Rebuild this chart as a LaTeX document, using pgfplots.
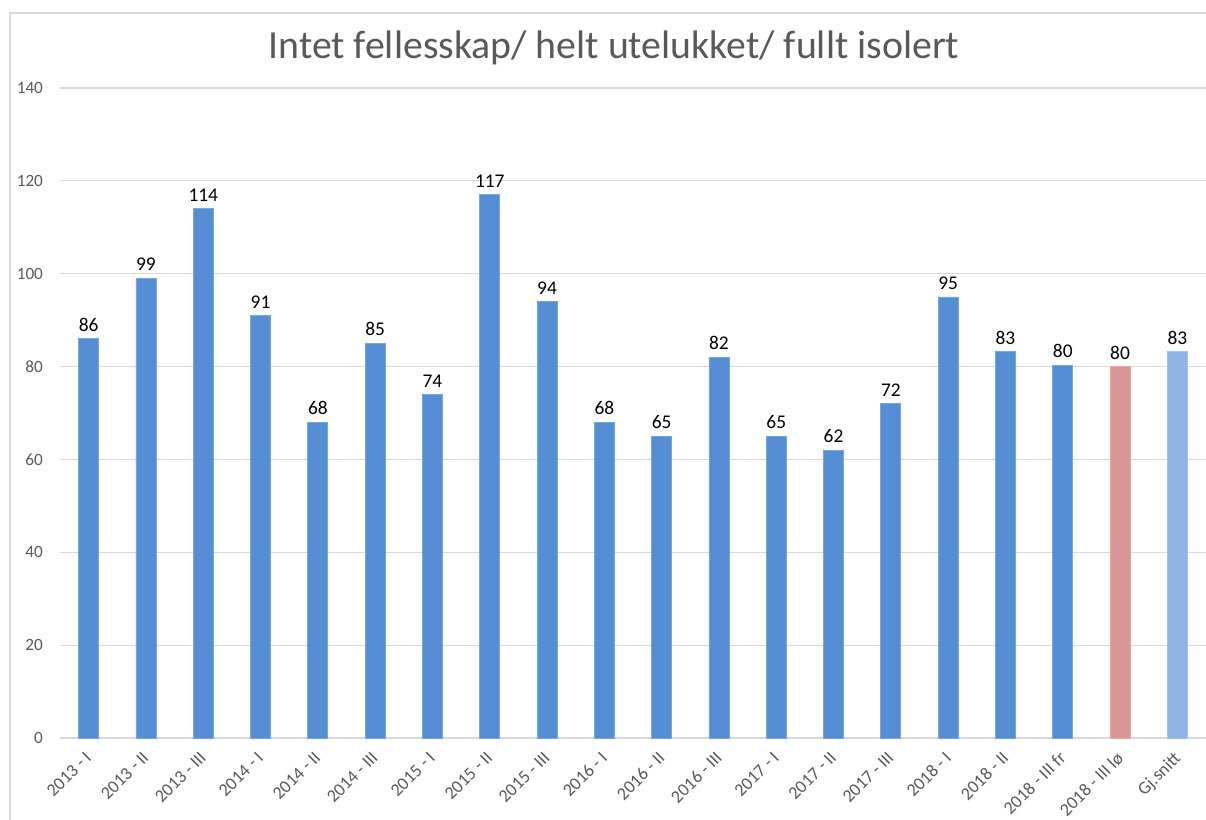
\documentclass[border=0pt]{standalone}
\usepackage{pgfplots}
\pgfplotsset{compat=1.18}
\usepackage{fontspec}
\setmainfont{Carlito}
\definecolor{barblue}{HTML}{558ED5}
\definecolor{barred}{HTML}{D99694}
\definecolor{barlight}{HTML}{8EB4E3}
\definecolor{txtgray}{HTML}{595959}
\definecolor{gridgray}{HTML}{D9D9D9}
\begin{document}
\begin{tikzpicture}[x=0.5pt,y=0.5pt]
\path[use as bounding box] (0,0) rectangle (1206,820);
\draw[gridgray, line width=0.6pt] (10,0) -- (10,807) -- (1206,807);
\node[anchor=base, text=txtgray, font=\fontsize{19.9pt}{23pt}\selectfont, inner sep=0] at (614,761) {Intet fellesskap/ helt utelukket/ fullt isolert};
\begin{axis}[
  at={(30pt,41pt)}, anchor=south west,
  scale only axis, width=573pt, height=325pt,
  xmin=-0.5, xmax=19.5, ymin=0, ymax=140,
  ytick={0,20,...,140},
  xtick={0,...,19},
  xticklabels={2013 - I,2013 - II,2013 - III,2014 - I,2014 - II,2014 - III,2015 - I,2015 - II,2015 - III,2016 - I,2016 - II,2016 - III,2017 - I,2017 - II,2017 - III,2018 - I,2018 - II,2018 - III fr,2018 - III lø,Gj.snitt},
  axis line style={draw=none},
  major tick length=0pt,
  ymajorgrids, grid style={gridgray, line width=0.6pt},
  /pgf/number format/assume math mode=true,
  yticklabel style={text=txtgray, font=\fontsize{8.6pt}{10pt}\selectfont, anchor=east, xshift=-5pt},
  xticklabel style={text=txtgray, font=\fontsize{9pt}{11pt}\selectfont, rotate=45, anchor=north east, inner sep=0pt, yshift=-2.64pt, xshift=-5.84pt},
  ybar, bar width=10pt, bar shift=0pt,
  nodes near coords,
  nodes near coords style={font=\fontsize{9.7pt}{11pt}\selectfont, text=black, anchor=south, inner sep=0pt, yshift=3.5pt, /pgf/number format/fixed, /pgf/number format/precision=0},
  clip=false,
]
\addplot[fill=barblue, draw=barblue!80!white, line width=0.4pt] coordinates {
(0,86) (1,99) (2,114) (3,91) (4,68) (5,85) (6,74) (7,117) (8,94) (9,68)
(10,65) (11,82) (12,65) (13,62) (14,72) (15,95) (16,83.2) (17,80.3)};
\addplot[fill=barred, draw=barred!80!white, line width=0.4pt] coordinates {(18,80)};
\addplot[fill=barlight, draw=barlight!80!white, line width=0.4pt] coordinates {(19,83.2)};
\end{axis}
\end{tikzpicture}
\end{document}
